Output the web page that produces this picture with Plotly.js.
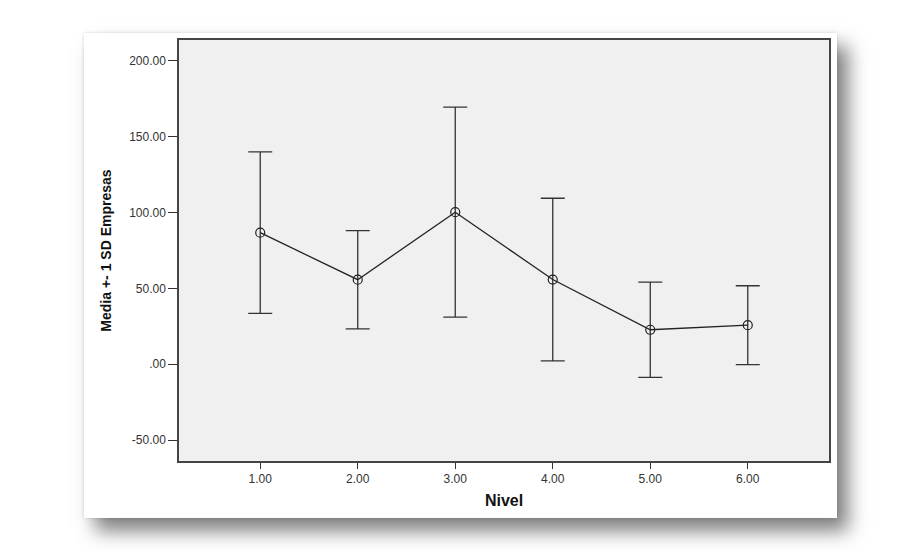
<!DOCTYPE html>
<html>
<head>
<meta charset="utf-8">
<script src="https://cdn.plot.ly/plotly-3.0.1.min.js"></script>
<style>
  html, body { margin: 0; padding: 0; background: #fff; }
  #card {
    position: absolute; left: 84px; top: 33px; width: 753px; height: 485px;
    background: #fff;
    box-shadow: 11px 13px 18px rgba(0,0,0,0.5), 0 0 3px rgba(0,0,0,0.15);
  }
  #myDiv { position: absolute; left: 0; top: 0; width: 917px; height: 551px; }
</style>
</head>
<body>
<div id="card"></div>
<div id="myDiv"></div>
<script>
// Nivel vs mean +- 1 SD (Empresas)
var nivel = [1, 2, 3, 4, 5, 6];
var media = [86.7, 55.7, 100.2, 55.8, 22.7, 25.7];
var sd = [53.2, 32.4, 69.2, 53.6, 31.4, 26.0];

var yTicks = [-50, 0, 50, 100, 150, 200];
var yLabels = ['-50.00', '.00', '50.00', '100.00', '150.00', '200.00'];
var xTicks = [1, 2, 3, 4, 5, 6];
var xLabels = ['1.00', '2.00', '3.00', '4.00', '5.00', '6.00'];

var trace1 = {
  x: nivel,
  y: media,
  mode: 'lines+markers',
  type: 'scatter',
  line: { color: '#222', width: 1.3 },
  marker: { symbol: 'circle-open', size: 9, color: '#222', line: { width: 1.2 } },
  error_y: { type: 'data', array: sd, visible: true, color: '#333', thickness: 1.3, width: 12 },
  hoverinfo: 'x+y'
};

var axisFont = { family: 'Liberation Sans, Arial, sans-serif', size: 12, color: '#333' };

var layout = {
  width: 917,
  height: 551,
  margin: { l: 179, r: 88, t: 40, b: 90 },
  paper_bgcolor: 'rgba(0,0,0,0)',
  plot_bgcolor: '#f0f0f0',
  showlegend: false,
  xaxis: {
    range: [0.167, 6.833],
    tickvals: xTicks,
    ticktext: xLabels,
    ticks: 'outside',
    ticklen: 6,
    tickcolor: '#333',
    showgrid: false,
    zeroline: false,
    showline: true,
    linecolor: '#444',
    linewidth: 1.5,
    mirror: true,
    tickfont: axisFont,
    title: { text: '<b>Nivel</b>', font: { family: 'Liberation Sans, Arial, sans-serif', size: 16, color: '#111' }, standoff: 10 }
  },
  yaxis: {
    range: [-63.8, 213.7],
    tickvals: yTicks,
    ticktext: yLabels,
    ticks: 'outside',
    ticklen: 9,
    tickcolor: '#333',
    showgrid: false,
    zeroline: false,
    showline: true,
    linecolor: '#444',
    linewidth: 1.5,
    mirror: true,
    tickfont: axisFont,
    title: { text: '<b>Media +- 1 SD Empresas</b>', font: { family: 'Liberation Sans, Arial, sans-serif', size: 14, color: '#111' }, standoff: 14 }
  }
};

Plotly.newPlot('myDiv', [trace1], layout, { displayModeBar: false });
</script>
</body>
</html>
